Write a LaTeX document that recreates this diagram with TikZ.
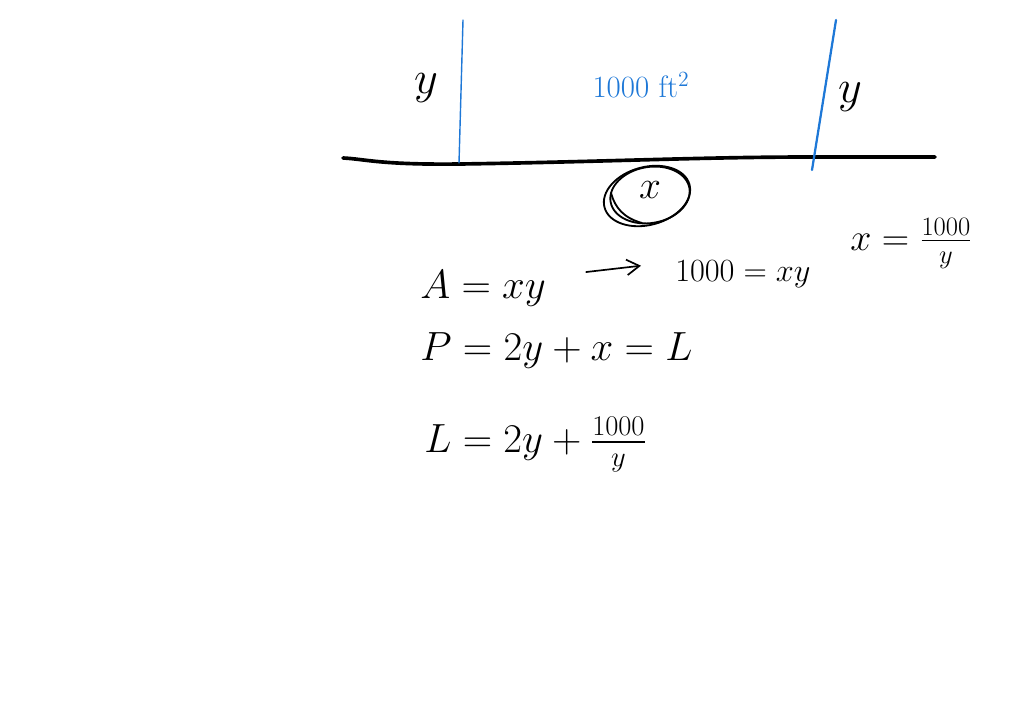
\RequirePackage{fix-cm}
\documentclass[tikz,border=0pt]{standalone}
\usepackage{amsmath}
\usetikzlibrary{arrows.meta}
\definecolor{penblue}{RGB}{30,120,215}

\begin{document}
\begin{tikzpicture}[line cap=round,line join=round,>={Straight Barb[length=9pt,width=11pt]},x=0.025cm,y=-0.025cm,
		eq/.style={anchor=base west,inner sep=0pt,font=\fontsize{29}{35}\selectfont},
		side/.style={font=\fontsize{33}{40}\selectfont}]
		\useasboundingbox (0,0) rectangle (1024,716);
		\draw [line width=2.6pt] (343,158) .. controls (365,159) and (380,165) .. (460,164) .. controls (600,162) and (700,157) .. (812,157) -- (935,157);
		\draw [line width=1pt,color=penblue] (463,20) -- (459,163);
		\draw [line width=1.6pt,color=penblue] (836,20) -- (812,170);
		\node[side] (yleft) at (426,88) {$y$};
		\node[side] (yright) at (850,97) {$y$};
		\node[font=\fontsize{22}{26}\selectfont,color=penblue] (area) at (641,85) {1000 ft$^2$};
		\node[side,font=\fontsize{28}{34}\selectfont] (xside) at (650,190) {$x$};
		\draw [line width=1.3pt] (xside.center) ++(-3,6) ellipse [x radius=44, y radius=29, rotate=15];
		\draw [line width=1.3pt] (xside.center) ++(0,5) ellipse [x radius=40, y radius=28, rotate=10];
		\draw [line width=1.3pt] (611,193) .. controls (615,208) and (624,218) .. (642,223);
		\node[eq] (eqA) at (420,298) {$A = xy$};
		\node[eq,font=\fontsize{23}{28}\selectfont] (eqB) at (675,281) {$1000 = xy$};
		\node[eq,font=\fontsize{27}{32}\selectfont] (eqX) at (850,250) {$x = \frac{1000}{y}$};
		\node[eq] (eqP) at (420,360) {$P = 2y + x = L$};
		\node[eq] (eqL) at (424,452) {$L = 2y + \frac{1000}{y}$};
		\draw [->,line width=1.2pt] ([xshift=1cm,yshift=0.4cm]eqA.east) -- ([xshift=-0.85cm,yshift=0.2cm]eqB.west);
	\end{tikzpicture}
\end{document}
